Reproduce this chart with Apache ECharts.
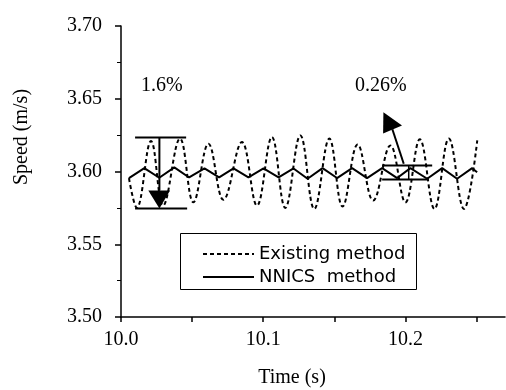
<!DOCTYPE html>
<html>
<head>
<meta charset="utf-8">
<script src="https://cdn.jsdelivr.net/npm/echarts@6/dist/echarts.min.js"></script>
<style>
  html, body { margin: 0; padding: 0; background: #fff; }
  #chart { width: 506px; height: 390px; }
</style>
</head>
<body>
<div id="chart"></div>
<script>
// Existing method (dashed) — peaks and troughs
const existingTime = [10.0056, 10.0111, 10.0211, 10.0296, 10.0415, 10.0509, 10.0615, 10.0720, 10.0850,
  10.0956, 10.1061, 10.1155, 10.1261, 10.1359, 10.1465, 10.1558, 10.1664, 10.1773, 10.1894,
  10.2000, 10.2101, 10.2204, 10.2305, 10.2411, 10.2505];
const existingSpeed = [3.5954, 3.5750, 3.6209, 3.5766, 3.6226, 3.5788, 3.6191, 3.5805, 3.6202,
  3.5766, 3.6237, 3.5750, 3.6248, 3.5743, 3.6226, 3.5759, 3.6186, 3.5800, 3.6179,
  3.5788, 3.6221, 3.5743, 3.6226, 3.5743, 3.6214];

// NNICS method (solid zigzag)
const nnicsTime = [10.0056, 10.0164, 10.0269, 10.0375, 10.0479, 10.0587, 10.0690, 10.0791, 10.0896,
  10.1002, 10.1108, 10.1213, 10.1312, 10.1417, 10.1519, 10.1625, 10.1730, 10.1836, 10.1942,
  10.2035, 10.2153, 10.2258, 10.2363, 10.2469, 10.2504];
const nnicsSpeed = [3.5954, 3.6023, 3.5957, 3.6028, 3.5959, 3.6021, 3.5959, 3.6021, 3.5959,
  3.6021, 3.5959, 3.6021, 3.5950, 3.6023, 3.5955, 3.6023, 3.5955, 3.6023, 3.5955,
  3.6023, 3.5950, 3.6023, 3.5950, 3.6023, 3.5995];

// tick values
const xTicks = [10.0, 10.05, 10.1, 10.15, 10.2, 10.25];
const xLabels = [10.0, 10.1, 10.2];

// annotation geometry in data units: [x0, x1, y]
const rangeBars = [[10.0099, 10.0458, 3.6234], [10.0099, 10.0465, 3.5745],
  [10.1836, 10.2188, 3.6041], [10.1836, 10.2162, 3.5945]];
const arrowShafts = [[[10.0270, 3.6234], [10.0270, 3.5869]], [[10.1988, 3.6053], [10.1908, 3.6290]]];
const arrowHeads = [[[10.0192, 3.5869], [10.0345, 3.5869], [10.0270, 3.5745]],
  [[10.1843, 3.6262], [10.1976, 3.6317], [10.1845, 3.6407]]];
const smallTicks = [[10.2023, 3.6041, 3.5945]]; // [x, y0, y1]

const zip = (xs, ys) => xs.map((x, i) => [x, ys[i]]);

const serif = '"Liberation Serif", "Times New Roman", serif';
const sans = '"DejaVu Sans", Arial, sans-serif';

const chart = echarts.init(document.getElementById('chart'), null, { renderer: 'canvas' });

chart.setOption({
  animation: false,
  backgroundColor: '#fff',
  grid: { left: 121, top: 26, right: 1, bottom: 73 },
  legend: {
    data: ['Existing method', 'NNICS  method'],
    orient: 'vertical',
    left: 202,
    top: 245,
    padding: 0,
    itemWidth: 51,
    itemHeight: 14,
    itemGap: 5,
    itemStyle: { opacity: 0 },
    textStyle: { fontFamily: sans, fontSize: 18, lineHeight: 18, color: '#000' }
  },
  xAxis: {
    type: 'value',
    min: 10.0,
    max: 10.27,
    interval: 0.05,
    splitLine: { show: false },
    axisLine: { lineStyle: { color: '#000', width: 1.5 } },
    axisTick: { customValues: xTicks, length: 5, lineStyle: { color: '#000', width: 1.5 } },
    axisLabel: {
      customValues: xLabels,
      margin: 13,
      fontFamily: serif,
      fontSize: 20,
      color: '#000',
      formatter: (v) => v.toFixed(1)
    }
  },
  yAxis: {
    type: 'value',
    min: 3.5,
    max: 3.7,
    interval: 0.05,
    splitLine: { show: false },
    axisLine: { show: true, lineStyle: { color: '#000', width: 1.5 } },
    axisTick: { show: true, length: 6, lineStyle: { color: '#000', width: 1.5 } },
    minorTick: { show: true, splitNumber: 2, length: 4, lineStyle: { color: '#000', width: 1 } },
    axisLabel: {
      margin: 19,
      fontFamily: serif,
      fontSize: 20,
      color: '#000',
      formatter: (v) => v.toFixed(2)
    }
  },
  graphic: [
    { type: 'rect', shape: { x: 180.5, y: 233.5, width: 236, height: 56 },
      style: { fill: 'none', stroke: '#000', lineWidth: 1 }, z: 1 },
    { type: 'text', left: 141, top: 76,
      style: { text: '1.6%', font: '20px ' + serif, fill: '#000' } },
    { type: 'text', left: 355, top: 76,
      style: { text: '0.26%', font: '20px ' + serif, fill: '#000' } },
    { type: 'text', x: 292, y: 378,
      style: { text: 'Time (s)', font: '20px ' + serif, fill: '#000', align: 'center', verticalAlign: 'middle' } },
    { type: 'text', x: 22, y: 137, rotation: Math.PI / 2,
      style: { text: 'Speed (m/s)', font: '20px ' + serif, fill: '#000', align: 'center', verticalAlign: 'middle' } }
  ],
  series: [
    {
      name: 'Existing method',
      type: 'line',
      data: zip(existingTime, existingSpeed),
      smooth: 0.4,
      symbol: 'none',
      color: '#000',
      lineStyle: { color: '#000', width: 2, type: [4, 3] }
    },
    {
      name: 'NNICS  method',
      type: 'line',
      data: zip(nnicsTime, nnicsSpeed),
      symbol: 'none',
      color: '#000',
      lineStyle: { color: '#000', width: 2 }
    },
    {
      name: 'annotations',
      type: 'custom',
      data: [0],
      silent: true,
      renderItem: (params, api) => {
        const children = [];
        rangeBars.forEach(([x0, x1, y]) => {
          const a = api.coord([x0, y]);
          const b = api.coord([x1, y]);
          children.push({ type: 'line', shape: { x1: a[0], y1: a[1], x2: b[0], y2: b[1] },
            style: { stroke: '#000', lineWidth: 2 } });
        });
        arrowShafts.forEach(([p, q]) => {
          const a = api.coord(p);
          const b = api.coord(q);
          children.push({ type: 'line', shape: { x1: a[0], y1: a[1], x2: b[0], y2: b[1] },
            style: { stroke: '#000', lineWidth: 2 } });
        });
        arrowHeads.forEach((pts) => {
          children.push({ type: 'polygon', shape: { points: pts.map((p) => api.coord(p)) },
            style: { fill: '#000' } });
        });
        smallTicks.forEach(([x, y0, y1]) => {
          const a = api.coord([x, y0]);
          const b = api.coord([x, y1]);
          children.push({ type: 'line', shape: { x1: a[0], y1: a[1], x2: b[0], y2: b[1] },
            style: { stroke: '#000', lineWidth: 1.5 } });
        });
        return { type: 'group', children };
      }
    }
  ]
});
</script>
</body>
</html>
